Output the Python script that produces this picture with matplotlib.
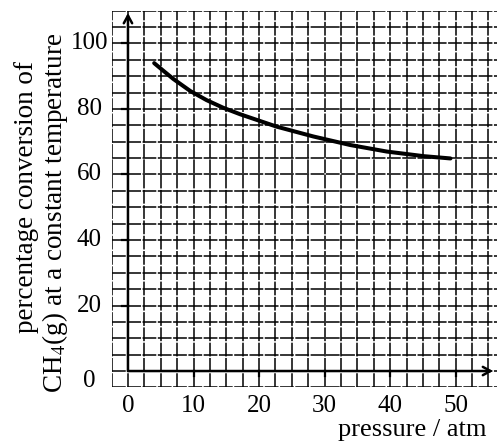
import numpy as np
import matplotlib.pyplot as plt
from matplotlib import transforms

plt.rcParams['font.family'] = ['Liberation Serif', 'DejaVu Serif']
plt.rcParams['mathtext.fontset'] = 'stix'

# curve
pressure = [4.0, 5.5, 6.9, 9.5, 12.0, 14.5, 17.1, 22.7, 28.3, 33.9, 39.5, 45.1, 49.2]
conversion = [94.0, 91.5, 89.2, 85.5, 82.7, 80.4, 78.4, 74.6, 71.6, 69.0, 67.0, 65.6, 64.9]

xticks = [0, 10, 20, 30, 40, 50]
yticks = [0, 20, 40, 60, 80, 100]
xlabel = "pressure / atm"
ylabel_lines = ["percentage conversion of", "CH$_4$(g) at a constant temperature"]

fig = plt.figure(figsize=(4.97, 4.43), dpi=100)
ax = fig.add_axes([0.2245, 0.1255, 0.7755, 0.8503])
ax.set_xlim(-2.5, 56.3)
ax.set_ylim(-5, 110)

# graph paper
gx = np.arange(-2.5, 57.6, 2.5)
gy = np.arange(-5, 110.1, 5)
for v in gx:
    ax.axvline(v, color='black', lw=1.1, dashes=(9, 1), zorder=1)
for v in gy:
    ax.axhline(v, color='black', lw=1.1, dashes=(9, 1), zorder=1)

for s in ax.spines.values():
    s.set_visible(False)
ax.set_xticks([])
ax.set_yticks([])

# axes with arrows
ax.annotate('', xy=(0, 109.3), xytext=(0, 0),
            arrowprops=dict(arrowstyle='->,head_length=0.55,head_width=0.3', lw=1.8, color='black',
                            shrinkA=0, shrinkB=0), zorder=3)
ax.annotate('', xy=(55.7, 0), xytext=(0, 0),
            arrowprops=dict(arrowstyle='->,head_length=0.55,head_width=0.3', lw=1.8, color='black',
                            shrinkA=0, shrinkB=0), zorder=3)

# little tick marks
for v in yticks[1:]:
    ax.plot([-0.9, 0], [v, v], color='black', lw=1.6, zorder=3)
for v in xticks[1:]:
    ax.plot([v, v], [-1.5, 0], color='black', lw=1.6, zorder=3)

# tick labels
tf_y = transforms.blended_transform_factory(ax.transAxes, ax.transData)
for v in yticks:
    off = transforms.ScaledTranslation(0, -10 / 100 if v == 0 else 0, fig.dpi_scale_trans)
    ax.text(-0.058, v, str(v), transform=tf_y + off, ha='center', va='center', fontsize=18)
tf_x = transforms.blended_transform_factory(ax.transData, ax.transAxes)
for v in xticks:
    ax.text(v, -0.02, str(v), transform=tf_x, ha='center', va='top', fontsize=18)

ax.plot(pressure, conversion, color='black', lw=2.9, solid_capstyle='round', zorder=4)

fig.text(487 / 497, 2 / 443, xlabel, ha='right', va='bottom', fontsize=19)
fig.text(27 / 497, (443 - 333) / 443, ylabel_lines[0], rotation=90, ha='center', va='bottom', fontsize=19.5)
fig.text(55 / 497, (443 - 393) / 443, ylabel_lines[1], rotation=90, ha='center', va='bottom', fontsize=19.5)

fig.savefig('out.png', dpi=100)
